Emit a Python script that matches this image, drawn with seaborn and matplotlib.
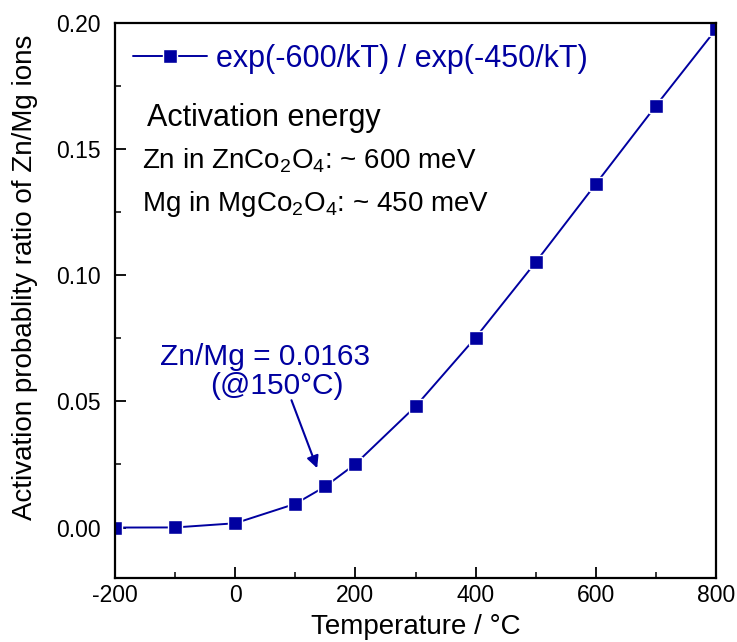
import matplotlib
matplotlib.use("Agg")
import matplotlib.pyplot as plt
import seaborn as sns
import pandas as pd
from matplotlib.ticker import MultipleLocator

temperature = [-200, -100, 0, 100, 150, 200, 300, 400, 500, 600, 700, 800]
ratio = [0.0, 0.00004, 0.0017, 0.0094, 0.0163, 0.0252, 0.0480, 0.0753, 0.1052, 0.1362, 0.1672, 0.1975]
series_label = "exp(-600/kT) / exp(-450/kT)"
x_ticks = [-200, 0, 200, 400, 600, 800]
y_ticks = [0.00, 0.05, 0.10, 0.15, 0.20]

sns.set_theme(style="ticks")
plt.rcParams['font.family'] = ['Liberation Sans', 'DejaVu Sans']
plt.rcParams['mathtext.fontset'] = 'custom'
plt.rcParams['mathtext.rm'] = 'Liberation Sans'
plt.rcParams['mathtext.it'] = 'Liberation Sans:italic'
plt.rcParams['text.color'] = 'black'
plt.rcParams['axes.labelcolor'] = 'black'

navy = '#0000A0'
df = pd.DataFrame({"T": temperature, "R": ratio})

fig = plt.figure(figsize=(7.37, 6.42), dpi=100)
ax = fig.add_axes([115/737, 1-578/642, (716-115)/737, (578-23)/642])

sns.lineplot(data=df, x="T", y="R", ax=ax, color=navy, marker='s', markersize=10.5,
             markeredgecolor='white', markeredgewidth=1.0, linewidth=1.4, label=series_label)

ax.set_xlim(-200, 800)
ax.set_ylim(-0.02, 0.20)
ax.set_xticks(x_ticks)
ax.set_yticks(y_ticks)
ax.set_xticklabels([str(v) for v in x_ticks])
ax.set_yticklabels([f"{v:.2f}" for v in y_ticks])
ax.xaxis.set_minor_locator(MultipleLocator(100))
ax.yaxis.set_minor_locator(MultipleLocator(0.025))
ax.tick_params(which='major', direction='in', length=8, width=1.3, labelsize=16.5, colors='black')
ax.tick_params(axis='y', which='major', pad=10)
ax.tick_params(axis='x', which='major', pad=4)
ax.tick_params(which='minor', direction='in', length=4.5, width=1.3)
for s in ax.spines.values():
    s.set_linewidth(1.6)
    s.set_color('black')

ax.set_xlabel("Temperature / °C", fontsize=20, labelpad=5)
ax.set_ylabel("Activation probablity ratio of Zn/Mg ions", fontsize=20)
ax.yaxis.set_label_coords(-0.128, 0.542)

leg = ax.legend(loc='upper left', bbox_to_anchor=(0.0, 0.995), frameon=False, fontsize=22,
                handlelength=2.4, handletextpad=0.3, borderaxespad=0.2, numpoints=1)
for t in leg.get_texts():
    t.set_color(navy)

def ytrans(py):
    return (578 - py) / (578 - 23)
ax.text(0.053, ytrans(118), "Activation energy", transform=ax.transAxes, fontsize=22, va='center')
ax.text(0.045, ytrans(161), r"Zn in ZnCo$_\mathregular{2}$O$_\mathregular{4}$: ~ 600 meV", transform=ax.transAxes, fontsize=20, va='center')
ax.text(0.045, ytrans(204), r"Mg in MgCo$_\mathregular{2}$O$_\mathregular{4}$: ~ 450 meV", transform=ax.transAxes, fontsize=20, va='center')

ax.text(50, 0.0677, "Zn/Mg = 0.0163", color=navy, fontsize=21.5, ha='center', va='center')
ax.text(70, 0.0562, "(@150°C)", color=navy, fontsize=21.5, ha='center', va='center')
ax.annotate("", xy=(138, 0.0225), xytext=(92, 0.0515),
            arrowprops=dict(arrowstyle='-|>', color=navy, lw=1.5, mutation_scale=18))

fig.savefig("out.png", dpi=100)
